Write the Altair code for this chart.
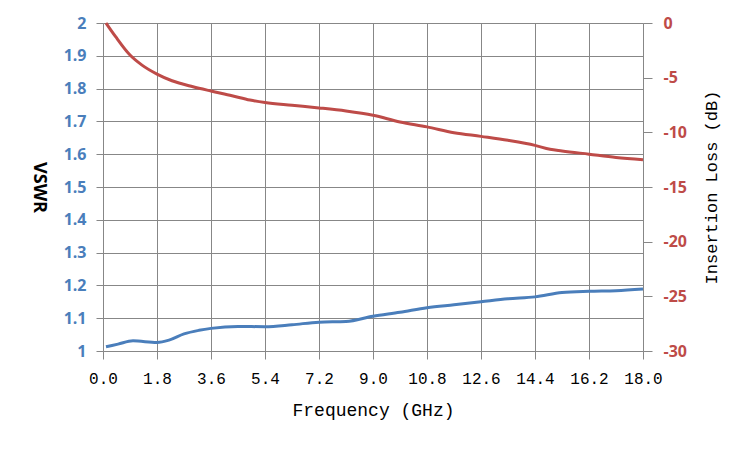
import altair as alt
import pandas as pd

# Data
freq_vswr = [0.1, 0.5, 1.0, 1.8, 2.2, 2.7, 3.2, 3.6, 4.5, 5.4, 6.3, 7.2, 8.1,
             9.0, 9.9, 10.8, 11.7, 12.6, 13.5, 14.4, 15.3, 16.2, 17.1, 18.0]
vswr = [1.013, 1.021, 1.031, 1.026, 1.033, 1.052, 1.063, 1.069, 1.075, 1.074, 1.080,
        1.088, 1.090, 1.106, 1.118, 1.132, 1.141, 1.150, 1.159, 1.165, 1.178, 1.182, 1.184, 1.189]

freq_il = [0.1, 0.42, 0.9, 1.3, 1.8, 2.3, 3.0, 3.6, 4.3, 4.9, 5.4, 6.3, 7.2, 8.1, 9.0, 9.9,
           10.8, 11.7, 12.6, 13.5, 14.4, 14.9, 15.3, 16.2, 17.1, 18.0]
il = [0.0, -1.25, -2.93, -3.85, -4.67, -5.28, -5.83, -6.22, -6.65, -7.05, -7.28, -7.53, -7.77,
      -8.05, -8.44, -9.05, -9.5, -10.03, -10.37, -10.73, -11.19, -11.55, -11.7, -12.0, -12.3, -12.5]

x_ticks = [round(1.8 * i, 1) for i in range(11)]
vswr_ticks = [round(1 + 0.1 * i, 1) for i in range(11)]
il_ticks = [-30, -25, -20, -15, -10, -5, 0]

df_v = pd.DataFrame({"freq": freq_vswr, "vswr": vswr})
df_i = pd.DataFrame({"freq": freq_il, "il": il})

BLUE = "#4A7EBB"
RED = "#BE4B48"
GRID = "#878787"
MONO = "Courier New, Liberation Mono, monospace"
SANS = "Open Sans"

x_enc = alt.X(
    "freq:Q",
    scale=alt.Scale(domain=[0, 18], nice=False, zero=False),
    axis=alt.Axis(
        values=x_ticks, format=".1f", title="Frequency (GHz)", labelOverlap=False,
        labelFlush=False, labelBound=False,
        labelFont=MONO, labelFontSize=16, labelColor="#000000", labelPadding=11,
        titleFont=MONO, titleFontSize=18, titleFontWeight="normal", titleColor="#000000",
        titlePadding=15, tickSize=8, tickColor=GRID, domain=False,
        grid=True, gridColor=GRID, gridWidth=1, gridOpacity=1,
    ),
)

blue = alt.Chart(df_v).mark_line(color=BLUE, strokeWidth=3, interpolate="monotone").encode(
    x=x_enc,
    y=alt.Y(
        "vswr:Q",
        scale=alt.Scale(domain=[1, 2], nice=False, zero=False),
        axis=alt.Axis(
            orient="left", values=vswr_ticks, labelExpr="toString(datum.value)", title="VSWR",
            labelFont=SANS, labelFontSize=16, labelFontWeight="bold", labelColor=BLUE,
            labelPadding=10, tickSize=7, tickColor=GRID, domain=False, labelOverlap=False,
            grid=True, gridColor=GRID, gridWidth=1, gridOpacity=1,
            titleFont=SANS, titleFontSize=18, titleFontWeight="bold", titleColor="#000000",
            titleAngle=90, titlePadding=34,
        ),
    ),
)

red = alt.Chart(df_i).mark_line(color=RED, strokeWidth=3, interpolate="monotone").encode(
    x=alt.X("freq:Q"),
    y=alt.Y(
        "il:Q",
        scale=alt.Scale(domain=[-30, 0], nice=False, zero=False),
        axis=alt.Axis(
            orient="right", values=il_ticks, labelExpr="toString(datum.value)",
            title="Insertion Loss (dB)", labelOverlap=False,
            labelFont=SANS, labelFontSize=16, labelFontWeight="bold", labelColor=RED,
            labelPadding=11, tickSize=9, tickColor=GRID, domain=False, grid=False,
            titleFont=MONO, titleFontSize=17, titleFontWeight="normal", titleColor="#000000",
            titleAngle=-90, titlePadding=34,
        ),
    ),
)

chart = alt.layer(blue, red).resolve_scale(y="independent").properties(
    width=540, height=328,
    autosize=alt.AutoSizeParams(type="none"),
    padding={"left": 95, "top": 15, "right": 99, "bottom": 91},
).configure_view(stroke=None).configure(background="#ffffff")

chart.save("out.html", embed_options={"renderer": "svg", "actions": False})
